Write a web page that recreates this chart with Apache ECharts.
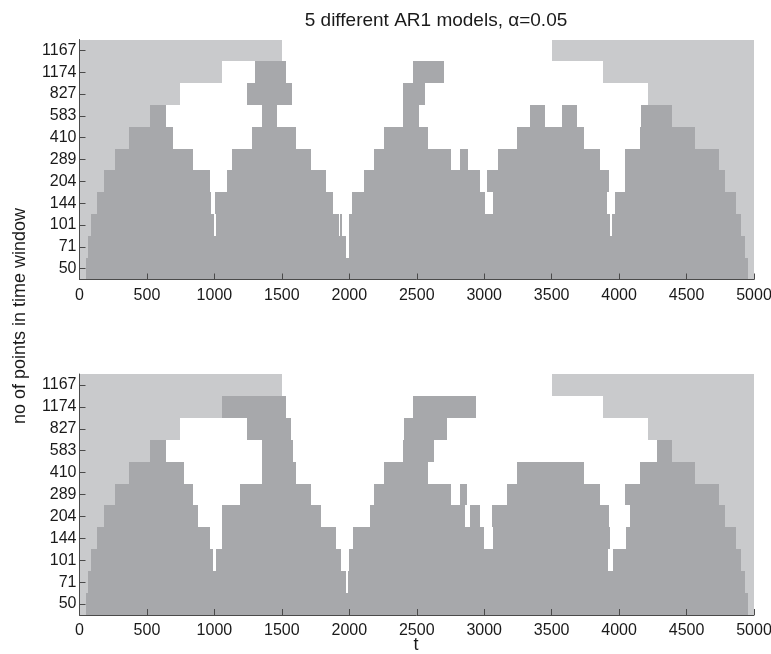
<!DOCTYPE html>
<html>
<head>
<meta charset="utf-8">
<script src="https://cdn.jsdelivr.net/npm/echarts@6/dist/echarts.min.js"></script>
<style>
  html, body { margin: 0; padding: 0; background: #fff; }
  #chart { width: 771px; height: 654px; }
</style>
</head>
<body>
<div id="chart"></div>
<script>
// Window sizes (rows, bottom to top) as printed on the y axis
const windowLabels = ['50', '71', '101', '144', '204', '289', '410', '583', '827', '1174', '1167'];

// Edges of the region where a window of that size does not fit (t units)
const unresolvedLeft  = [45, 64, 88, 129, 181, 261, 369, 526, 745, 1059, 1500];
const unresolvedRight = [4953, 4930, 4904, 4870, 4788, 4738, 4565, 4395, 4217, 3884, 3505];

// Upper panel: intervals [start, end] flagged per window size (rows bottom to top)
const upperDetected = [
  [[45, 4953]],
  [[64, 1977], [1997, 4930]],
  [[88, 995], [1010, 1920], [1932, 1948], [1998, 3933], [3951, 4904]],
  [[129, 973], [1002, 1877], [2023, 3003], [3062, 3912], [3970, 4870]],
  [[181, 966], [1090, 1828], [2110, 2972], [3019, 3922], [4045, 4788]],
  [[261, 842], [1133, 1717], [2180, 2757], [2819, 2877], [3105, 3860], [4045, 4738]],
  [[369, 694], [1277, 1603], [2257, 2584], [3241, 3737], [4152, 4565]],
  [[526, 638], [1356, 1463], [2401, 2520], [3339, 3451], [3574, 3690], [4163, 4395]],
  [[1245, 1574], [2401, 2562]],
  [[1300, 1534], [2470, 2703]],
  []
];

// Lower panel
const lowerDetected = [
  [[45, 4953]],
  [[64, 1975], [1990, 4930]],
  [[88, 990], [1010, 1937], [1995, 3917], [3958, 4904]],
  [[129, 971], [1055, 1901], [2025, 3002], [3062, 3934], [4052, 4870]],
  [[181, 879], [1058, 1788], [2156, 2854], [2895, 2969], [3058, 3922], [4083, 4788]],
  [[261, 838], [1188, 1715], [2180, 2756], [2817, 2874], [3168, 3860], [4046, 4738]],
  [[369, 773], [1355, 1603], [2260, 2585], [3241, 3737], [4152, 4565]],
  [[526, 642], [1350, 1583], [2398, 2630], [4278, 4395]],
  [[1240, 1570], [2402, 2724]],
  [[1059, 1532], [2470, 2940]],
  []
];

const T_MAX = 5000;
const DARK = '#a7a8ab';
const LIGHT = '#c9cacc';
const FONT = '"Liberation Sans", Arial, Helvetica, sans-serif';
const AXIS_COLOR = '#4a4a4a';
const TEXT_COLOR = '#1a1a1a';

function unresolvedItems() {
  const out = [];
  windowLabels.forEach((_, r) => {
    out.push([r, 0, unresolvedLeft[r]]);
    out.push([r, unresolvedRight[r], T_MAX]);
  });
  return out;
}

function detectedItems(rows) {
  const out = [];
  rows.forEach((intervals, r) => {
    intervals.forEach(iv => out.push([r, iv[0], iv[1]]));
  });
  return out;
}

function bandRenderer(color) {
  return function (params, api) {
    const row = api.value(0);
    const a = api.coord([api.value(1), row]);
    const b = api.coord([api.value(2), row]);
    const h = api.size([0, 1])[1];
    const x0 = Math.round(a[0]);
    const x1 = Math.round(b[0]);
    const y0 = Math.round(a[1] - h / 2);
    const y1 = Math.round(a[1] + h / 2);
    return {
      type: 'rect',
      shape: { x: x0, y: y0, width: x1 - x0, height: y1 - y0 },
      style: { fill: color }
    };
  };
}

const grids = [
  { left: 79.5, top: 39.5, width: 674.5, height: 240, outerBoundsMode: 'none', containLabel: false },
  { left: 79.5, top: 374, width: 674.5, height: 241, outerBoundsMode: 'none', containLabel: false }
];

function xAxisFor(i) {
  return {
    type: 'value', gridIndex: i, min: 0, max: T_MAX, interval: 500, z: 10,
    axisLine: { show: true, lineStyle: { color: AXIS_COLOR, width: 1 } },
    axisTick: { show: true, inside: true, length: 6, lineStyle: { color: AXIS_COLOR } },
    axisLabel: {
      color: TEXT_COLOR, fontFamily: FONT, fontSize: 16, margin: 8,
      formatter: v => String(v)
    },
    splitLine: { show: false }
  };
}

function yAxisFor(i) {
  return {
    type: 'category', gridIndex: i, data: windowLabels, z: 10,
    axisLine: { show: true, lineStyle: { color: AXIS_COLOR, width: 1 } },
    axisTick: { show: true, inside: true, length: 6, alignWithLabel: true, lineStyle: { color: AXIS_COLOR } },
    axisLabel: { color: TEXT_COLOR, fontFamily: FONT, fontSize: 16, margin: 3 },
    splitLine: { show: false }
  };
}

function panelSeries(i, rows) {
  return [
    {
      type: 'custom', xAxisIndex: i, yAxisIndex: i, z: 1, silent: true,
      renderItem: bandRenderer(LIGHT), encode: { x: [1, 2], y: 0 },
      data: unresolvedItems()
    },
    {
      type: 'custom', xAxisIndex: i, yAxisIndex: i, z: 2, silent: true,
      renderItem: bandRenderer(DARK), encode: { x: [1, 2], y: 0 },
      data: detectedItems(rows)
    }
  ];
}

const chart = echarts.init(document.getElementById('chart'), null, { renderer: 'canvas' });
chart.setOption({
  animation: false,
  backgroundColor: '#ffffff',
  title: {
    text: '5 different AR1 models, \u03b1=0.05',
    left: 431, top: 6, textAlign: 'center',
    textStyle: { fontFamily: FONT, fontSize: 19, fontWeight: 'normal', color: TEXT_COLOR }
  },
  grid: grids,
  xAxis: [xAxisFor(0), xAxisFor(1)],
  yAxis: [yAxisFor(0), yAxisFor(1)],
  series: [].concat(panelSeries(0, upperDetected), panelSeries(1, lowerDetected)),
  graphic: [
    {
      type: 'text', x: 20, y: 316, rotation: Math.PI / 2,
      style: {
        text: 'no of points in time window', fontFamily: FONT, fontSize: 18,
        fill: TEXT_COLOR, align: 'center', verticalAlign: 'middle'
      }
    },
    {
      type: 'text', x: 416, y: 645,
      style: {
        text: 't', fontFamily: FONT, fontSize: 18, fill: TEXT_COLOR,
        align: 'center', verticalAlign: 'middle'
      }
    }
  ]
});
</script>
</body>
</html>
